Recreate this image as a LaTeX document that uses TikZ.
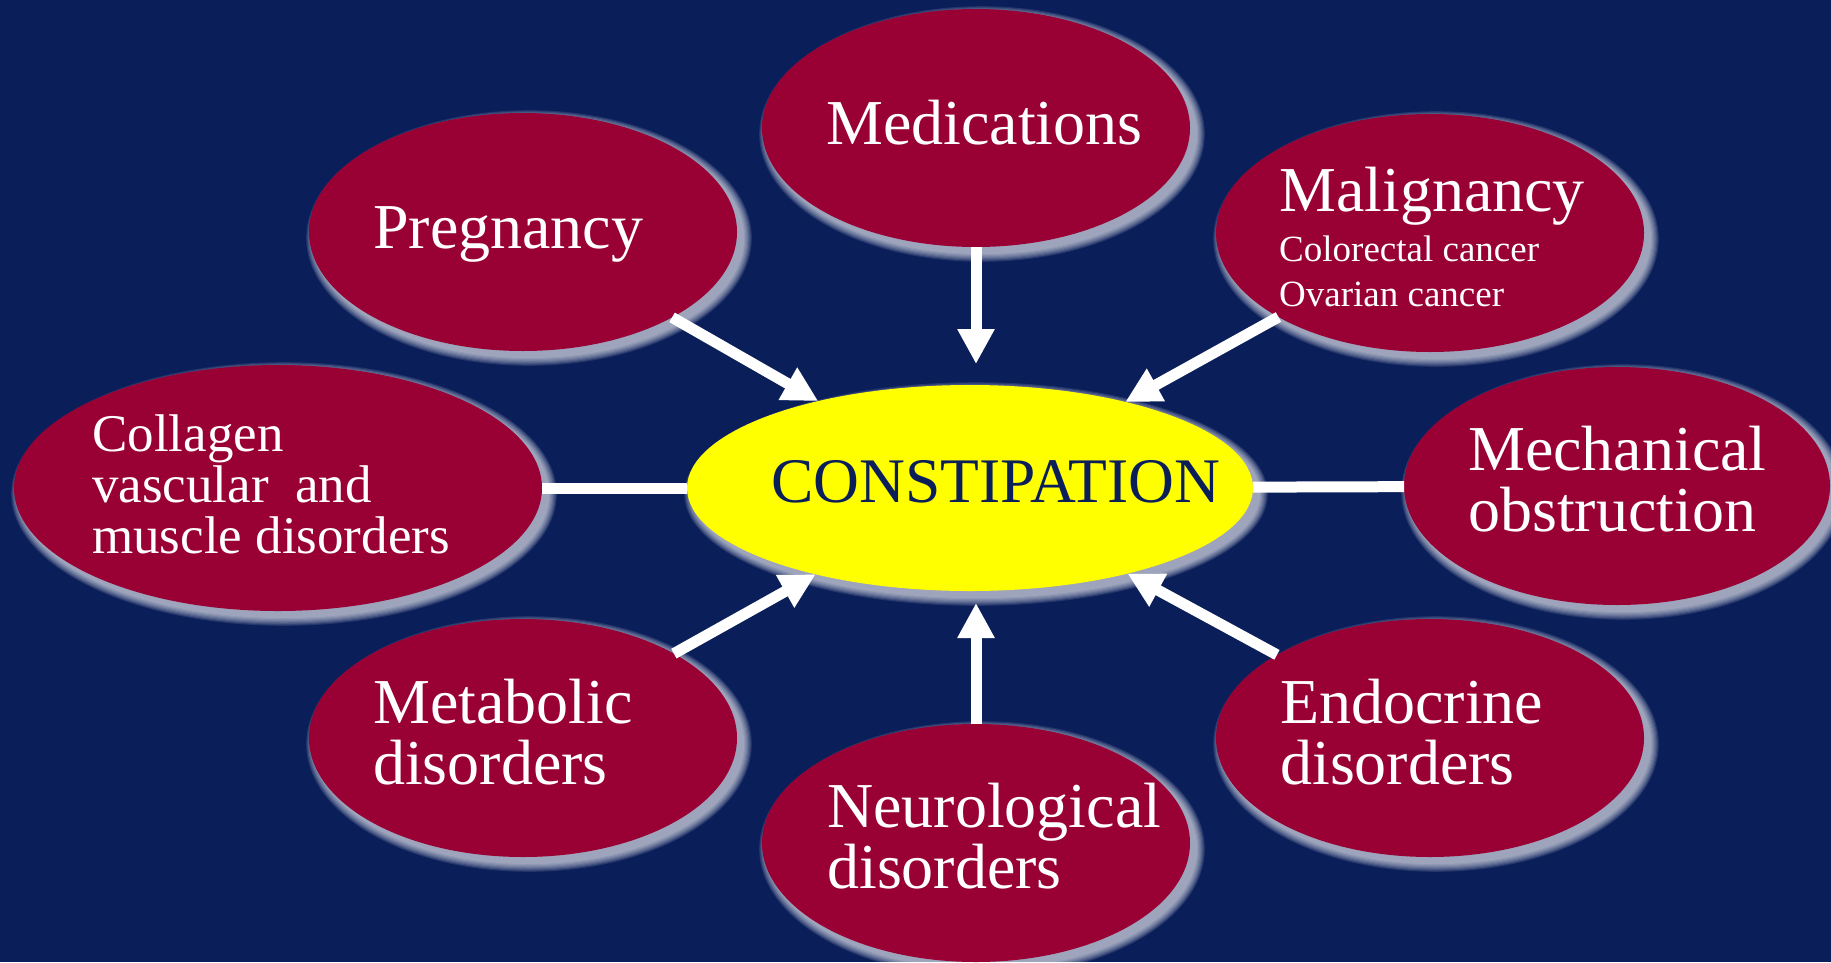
\documentclass[tikz,border=0pt]{standalone}
\usepackage{fontspec}
\setmainfont{Liberation Serif}
\usetikzlibrary{arrows.meta,shapes.geometric,calc}
\definecolor{navy}{RGB}{10,30,90}
\definecolor{wine}{RGB}{153,0,51}
\definecolor{yel}{RGB}{255,255,0}
\pgfdeclarelayer{bg}
\pgfsetlayers{bg,main}
\newcommand\glowat[3]{%
  \begin{pgfonlayer}{bg}
  \foreach \k in {1,...,8}{%
    \fill[white,opacity=0.11] ($(#1.center)+(6,6)$) ellipse [x radius={#2pt+1.1pt*\k}, y radius={#3pt+1.1pt*\k}];
  }
  \end{pgfonlayer}}
\begin{document}
\begin{tikzpicture}[x=1pt,y=-1pt,
  cause/.style={ellipse, fill=wine, inner sep=0pt, outer sep=0pt, minimum width=428pt, minimum height=238pt},
  lbl/.style={text=white, anchor=base west, align=left, inner sep=0pt, font=\fontsize{64}{61}\selectfont},
  link/.style={draw=white, line width=11pt},
  arr/.style={link, -{Triangle[width=35pt,length=35pt]}}]
\useasboundingbox (0,0) rectangle (1831,962);
\begin{pgfonlayer}{bg}
\fill[navy] (0,0) rectangle (1831,962);
\end{pgfonlayer}
% ellipses
\node[cause] (med) at (976,128) {};
\node[cause] (preg) at (523,232) {};
\node[cause] (mal) at (1430,233) {};
\node[cause, minimum width=528pt, minimum height=246pt] (col) at (278,488) {};
\node[cause, minimum width=426pt] (mech) at (1617,486) {};
\node[cause] (meta) at (523,738) {};
\node[cause] (neuro) at (976,843) {};
\node[cause] (endo) at (1430,738) {};
\node[ellipse, fill=yel, inner sep=0pt, outer sep=0pt, minimum width=566pt, minimum height=206pt] (con) at (970,488) {};
% glows
\glowat{med}{214}{119}
\glowat{preg}{214}{119}
\glowat{mal}{214}{119}
\glowat{col}{264}{123}
\glowat{mech}{213}{119}
\glowat{meta}{214}{119}
\glowat{neuro}{214}{119}
\glowat{endo}{214}{119}
\glowat{con}{283}{103}
% connectors
\draw[arr, shorten >=21pt] (med) -- (med |- con.north);
\draw[arr, shorten >=12pt] (neuro) -- (neuro |- con.south);
\draw[arr] (preg) -- (con);
\draw[arr] (mal) -- (con);
\draw[arr] (meta) -- (con);
\draw[arr] (endo) -- (con);
\draw[link] (col) -- (con);
\draw[link] (mech) -- (con);
% labels (multi-line nodes: base = last line)
\node[lbl] (medt) at (826,144) {Medications};
\node[lbl] (pregt) at (373,248) {Pregnancy};
\node[lbl] (malt) at (1279,211) {Malignancy};
\node[lbl, font=\fontsize{37}{45}\selectfont] (malsub) at (1279,306) {Colorectal cancer\\Ovarian cancer};
\node[lbl, font=\fontsize{53}{51}\selectfont] (colt) at (92,553) {Collagen\\vascular\ \ and\\muscle disorders};
\node[lbl] (mecht) at (1468,531) {Mechanical\\obstruction};
\node[lbl] (metat) at (373,784) {Metabolic\\disorders};
\node[lbl] (neurot) at (827,888) {Neurological\\disorders};
\node[lbl] (endot) at (1280,784) {Endocrine\\disorders};
\node[lbl, text=navy, font=\fontsize{63.5}{63.5}\selectfont] (cont) at (771,502) {CONSTIPATION};
\end{tikzpicture}
\end{document}
